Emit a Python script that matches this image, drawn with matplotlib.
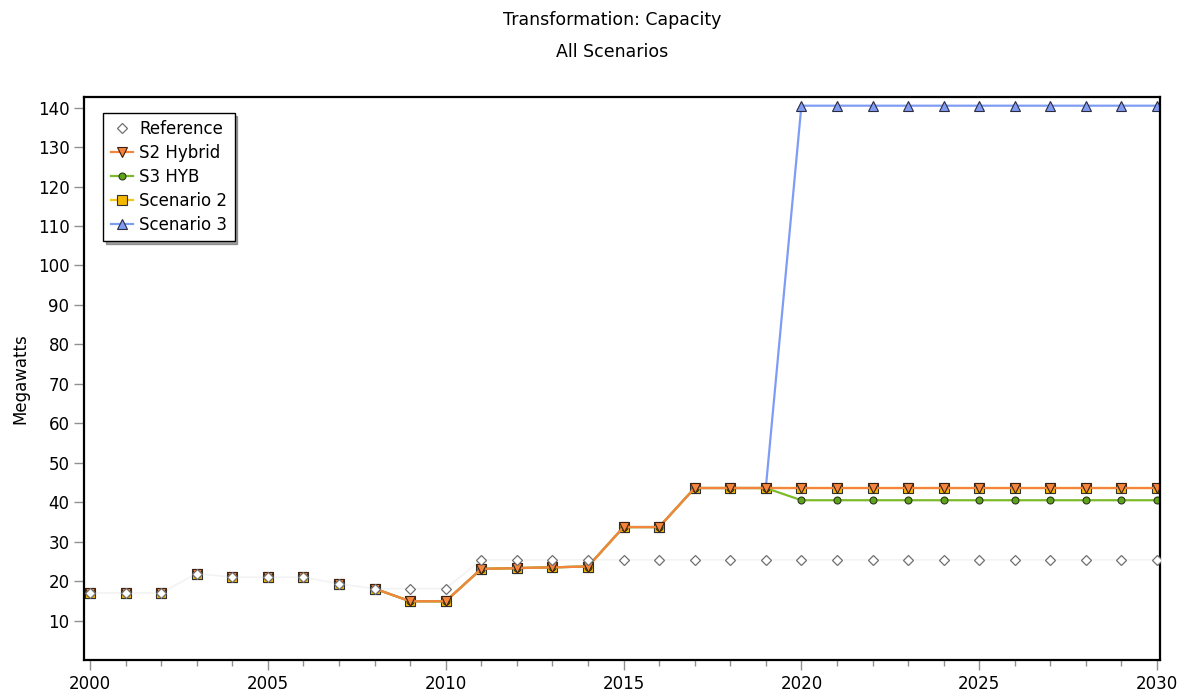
import numpy as np
import matplotlib
matplotlib.use('Agg')
import matplotlib.pyplot as plt

YEARS = list(range(2000, 2031))

REFERENCE = [17.0, 17.0, 17.0, 21.9, 21.0, 21.0, 21.0, 19.3, 18.1, 18.1, 18.1,
             25.4, 25.4, 25.4, 25.4, 25.4, 25.4, 25.4, 25.4, 25.4, 25.4,
             25.4, 25.4, 25.4, 25.4, 25.4, 25.4, 25.4, 25.4, 25.4, 25.4]

BASE = [17.0, 17.0, 17.0, 21.9, 21.0, 21.0, 21.0, 19.3, 18.1, 14.9, 14.9,
        23.1, 23.3, 23.5, 23.7, 33.7, 33.7, 43.6, 43.6, 43.6]

S2_HYBRID = BASE + [43.6] * 11
S3_HYB = BASE + [40.5] * 11
SCENARIO_2 = BASE + [43.6] * 11
SCENARIO_3 = BASE + [140.5] * 11

LINE_START = 2008  # scenario lines are only drawn from here on

SERIES = [
    # label, values, line color, marker, face color, edge color, size
    ('Scenario 3', SCENARIO_3, '#7f9cf5', '^', '#7f9cf5', '#2a2a40', 6.5),
    ('Scenario 2', SCENARIO_2, '#f5c518', 's', '#f5b800', '#303030', 6.8),
    ('S3 HYB', S3_HYB, '#7cba2a', 'o', '#5fa21c', '#2a3a1a', 5),
    ('S2 Hybrid', S2_HYBRID, '#f5843c', 'v', '#f5843c', '#3a2010', 6.5),
]

fig = plt.figure(figsize=(11.86, 6.98), dpi=100)
ax = fig.add_axes([0.0708, 0.0544, 0.9072, 0.8066])

years = np.array(YEARS)
handles = {}
for label, vals, lc, mk, fc, ec, ms in SERIES:
    vals = np.array(vals)
    m = years >= LINE_START
    ax.plot(years[~m], vals[~m], linestyle='none', marker=mk, markersize=ms,
            markerfacecolor=fc, markeredgecolor=ec, markeredgewidth=0.8)
    h, = ax.plot(years[m], vals[m], color=lc, linewidth=1.6, marker=mk,
                 markersize=ms, markerfacecolor=fc, markeredgecolor=ec,
                 markeredgewidth=0.8, label=label)
    handles[label] = h

ax.plot(years, REFERENCE, color='#f3f3f3', linewidth=1.2, zorder=1)
href, = ax.plot(years, REFERENCE, linestyle='none', marker='D', markersize=5.5,
                markerfacecolor='white', markeredgecolor='#707070',
                markeredgewidth=0.9, label='Reference', zorder=5)

ax.set_xlim(1999.83, 2030.08)
ax.set_ylim(0, 142.7)
ax.set_xticks(range(2000, 2031, 5))
ax.set_xticks(range(2000, 2031), minor=True)
ax.set_yticks(range(10, 141, 10))
ax.tick_params(axis='both', which='major', labelsize=12, color='#909090',
               length=7, width=1.0)
ax.tick_params(axis='x', which='minor', color='#909090', length=4, width=1.0)
for s in ax.spines.values():
    s.set_color('black')
    s.set_linewidth(1.6)

ax.set_ylabel('Megawatts', fontsize=12, labelpad=6)

fig.text(0.516, 0.972, 'Transformation: Capacity', ha='center', va='center', fontsize=12.5)
fig.text(0.516, 0.925, 'All Scenarios', ha='center', va='center', fontsize=12.5)

order = [href, handles['S2 Hybrid'], handles['S3 HYB'], handles['Scenario 2'], handles['Scenario 3']]
leg = ax.legend(handles=order, loc='upper left', bbox_to_anchor=(0.018, 0.972),
                borderaxespad=0, fontsize=12, fancybox=False, shadow=True,
                handlelength=1.3, handletextpad=0.4, labelspacing=0.35,
                borderpad=0.45)
leg.get_frame().set_edgecolor('black')
leg.get_frame().set_linewidth(1.0)

fig.savefig('out.png', dpi=100)
